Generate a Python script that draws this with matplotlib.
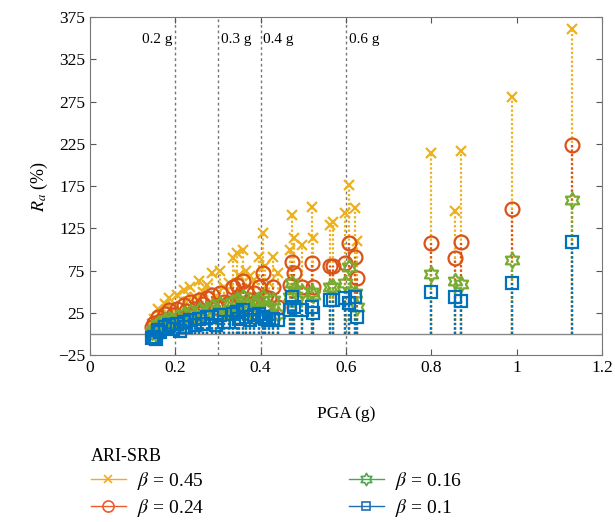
import matplotlib
matplotlib.use('Agg')
import matplotlib.pyplot as plt
from matplotlib.legend_handler import HandlerLine2D
from matplotlib.lines import Line2D
from matplotlib.path import Path
import numpy as np

plt.rcParams['font.family'] = ['Liberation Serif', 'DejaVu Serif']
plt.rcParams['mathtext.fontset'] = 'stix'

# PGA of each record (g) and the response ratio R_a (%) for each beta
pga = [0.145, 0.150, 0.155, 0.160, 0.165, 0.175, 0.185, 0.195, 0.205, 0.210,
       0.220, 0.225, 0.235, 0.245, 0.255, 0.265, 0.275, 0.285, 0.295, 0.305,
       0.315, 0.325, 0.335, 0.345, 0.350, 0.358, 0.365, 0.375, 0.385, 0.395,
       0.405, 0.410, 0.420, 0.430, 0.440, 0.468, 0.473, 0.478, 0.496, 0.520,
       0.522, 0.562, 0.570, 0.597, 0.607, 0.620, 0.625,
       0.800, 0.855, 0.870, 0.990, 1.130]
ra_045 = [12, 18, 10, 30, 22, 35, 42, 30, 46, 25,
          52, 38, 55, 44, 62, 50, 58, 72, 45, 74,
          55, 60, 90, 96, 70, 99, 75, 68, 64, 91,
          119, 80, 60, 91, 72, 99, 141, 113, 105, 150,
          113, 129, 133, 143, 176, 149, 110,
          214, 145, 217, 280, 361]
ra_024 = [8, 13, 6, 20, 15, 24, 28, 22, 30, 18,
          34, 27, 38, 30, 40, 35, 42, 46, 32, 48,
          38, 36, 55, 58, 45, 62, 50, 40, 48, 56,
          72, 44, 42, 56, 32, 58, 85, 72, 56, 84,
          56, 80, 80, 84, 108, 91, 66,
          107, 90, 109, 148, 223]
ra_016 = [2, 6, 0, 12, 8, 16, 18, 14, 20, 10,
          23, 16, 26, 20, 28, 22, 30, 32, 22, 35,
          26, 24, 38, 40, 30, 44, 34, 28, 36, 40,
          44, 30, 32, 40, 24, 44, 60, 52, 49, 49,
          46, 56, 56, 60, 79, 48, 32,
          71, 63, 59, 87, 158]
ra_010 = [-5, -4, -6, 5, 2, 8, 10, 6, 12, 4,
          14, 8, 16, 10, 18, 12, 20, 20, 10, 22,
          14, 14, 24, 26, 18, 28, 20, 16, 22, 24,
          20, 18, 16, 18, 16, 28, 44, 32, 28, 32,
          25, 40, 40, 43, 37, 44, 20,
          50, 44, 39, 60, 109]

labels = [r'$\beta$ = 0.45', r'$\beta$ = 0.24', r'$\beta$ = 0.16', r'$\beta$ = 0.1']
colors = ['#EDB120', '#D95319', '#77AC30', '#0072BD']
leg_colors = ['#F9A825', '#F05A28', '#4CA64C', '#1F6FB8']

# six-pointed star like MATLAB's hexagram
ang = np.pi / 2 + np.arange(12) * np.pi / 6
rad = np.where(np.arange(12) % 2 == 0, 1.0, 0.577)
verts = np.column_stack([rad * np.cos(ang), rad * np.sin(ang)])
verts = np.vstack([verts, verts[:1]])
hexagram = Path(verts, [Path.MOVETO] + [Path.LINETO] * 11 + [Path.CLOSEPOLY])

markers = ['x', 'o', hexagram, 's']
msizes = [7, 10, 11, 8]

pga_lines = [0.2, 0.3, 0.4, 0.6]
pga_texts = ['0.2 g', '0.3 g', '0.4 g', '0.6 g']

fig = plt.figure(figsize=(6.15, 5.22), dpi=100)
ax = fig.add_axes([0.1463, 0.3199, 0.8325, 0.6475])

for xv in pga_lines:
    ax.axvline(xv, color='#777777', ls=(0, (2, 2)), lw=1, zorder=1)
ax.axhline(0, color='#888888', lw=1, zorder=1)

series = [ra_045, ra_024, ra_016, ra_010]
x = np.array(pga)
for i, ys in enumerate(series):
    y = np.array(ys)
    ax.vlines(x, 0, y, colors=colors[i], linestyles=(0, (1, 1)), lw=1.6, zorder=2 + i)
    ax.plot(x, y, ls='none', marker=markers[i], ms=msizes[i], mec=colors[i],
            mfc='none', mew=1.6, zorder=2 + i)

for xv, t in zip(pga_lines, pga_texts):
    if xv == 0.2:
        ax.text(xv - 0.006, 348, t, ha='right', va='center', fontsize=11)
    else:
        ax.text(xv + 0.006, 348, t, ha='left', va='center', fontsize=11)

ax.set_xlim(0, 1.2)
ax.set_ylim(-25, 375)
ax.set_xticks([0, 0.2, 0.4, 0.6, 0.8, 1.0, 1.2])
ax.set_xticklabels(['0', '0.2', '0.4', '0.6', '0.8', '1', '1.2'])
ax.set_yticks(np.arange(-25, 376, 50))
ax.tick_params(direction='in', top=True, right=True, labelsize=12.5, length=4,
               color='#555555')
for s in ax.spines.values():
    s.set_color('#777777')
ax.set_xlabel('PGA (g)', fontsize=12.5, labelpad=22)
ax.set_ylabel(r'$R_a$ (%)', fontsize=13, labelpad=6)


class RightMarker(HandlerLine2D):
    def get_xdata(self, legend, xdescent, ydescent, width, height, fontsize):
        xdata, _ = super().get_xdata(legend, xdescent, ydescent, width, height, fontsize)
        return xdata, [xdata[-1] - 3]


handles = []
for i in range(4):
    handles.append(Line2D([], [], color=leg_colors[i], lw=1, marker=markers[i],
                          ms=msizes[i] * 0.8, mfc='none', mew=1.2, mec=leg_colors[i]))
leg = fig.legend(handles, labels,
                 loc='upper left', bbox_to_anchor=(0.119, 0.175), ncol=2,
                 frameon=False, title='ARI-SRB', fontsize=14, title_fontsize=13,
                 handlelength=1.8, handletextpad=0.6, columnspacing=7.4,
                 labelspacing=0.25, alignment='left',
                 handler_map={Line2D: RightMarker(numpoints=1)})

fig.savefig('out.png', dpi=100)
